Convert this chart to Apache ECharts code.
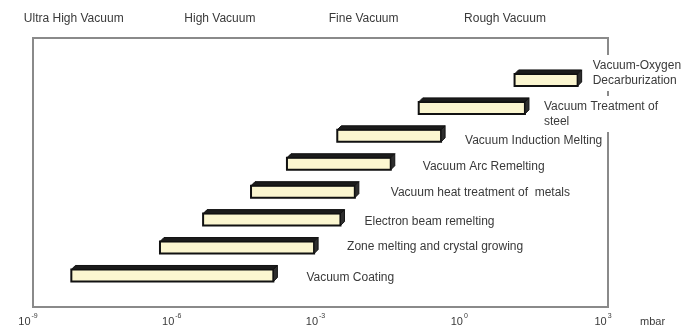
<!DOCTYPE html>
<html><head><meta charset="utf-8">
<script src="https://cdn.jsdelivr.net/npm/echarts@6/dist/echarts.min.js"></script>
<style>html,body{margin:0;padding:0;background:#fff}#chart{width:692px;height:333px}</style>
</head><body><div id="chart"></div>
<script>
// Vacuum processes, listed bottom to top
const processes = [
  'Vacuum Coating',
  'Zone melting and crystal growing',
  'Electron beam remelting',
  'Vacuum heat treatment of  metals',
  'Vacuum Arc Remelting',
  'Vacuum Induction Melting',
  'Vacuum Treatment of\nsteel',
  'Vacuum-Oxygen\nDecarburization'
];
// Working pressure range of each process, as log10(p / mbar)
const lowExp  = [-8.2, -6.35, -5.45, -4.45, -3.7, -2.65, -0.95, 1.05];
const highExp = [-3.9, -3.05, -2.5, -2.2, -1.45, -0.4, 1.35, 2.45];
// Pressure axis ticks (powers of ten)
const tickExps = [-9, -6, -3, 0, 3];
const unitName = 'mbar';
// Vacuum ranges named along the top edge
const rangeNames = ['Ultra High Vacuum', 'High Vacuum', 'Fine Vacuum', 'Rough Vacuum'];
const rangeCenters = [-8.15, -5.1, -2.1, 0.85];

// Label placement next to each bar: horizontal gap and vertical nudge (px)
const labelGap = [29, 29, 20, 32, 28, 20, 15, 11];
const labelDy  = [4, 1, 4, 3, 5, 7, 8, -5];

const barData = processes.map((name, i) => [lowExp[i], highExp[i], i]);

const FONT = '"Liberation Sans", Arial, sans-serif';
const TEXT = '#3a3a3a';

function renderItem(params, api) {
  const i = api.value(2);
  const p0 = api.coord([api.value(0), i]);
  const p1 = api.coord([api.value(1), i]);
  const h = 16, d = 4;
  const x0 = p0[0], x1 = p1[0], yc = p0[1];
  const top = yc - h / 2, bot = yc + h / 2;
  const twoLine = processes[i].indexOf('\n') >= 0;
  return {
    type: 'group',
    children: [
      { // front face
        type: 'rect',
        shape: { x: x0, y: top + d, width: x1 - x0 - d, height: h - d },
        style: { fill: '#fbf6d0', stroke: '#111', lineWidth: 2 }
      },
      { // top face
        type: 'polygon',
        shape: { points: [[x0, top + d], [x0 + d, top], [x1, top], [x1 - d, top + d]] },
        style: { fill: '#1b1b1b', stroke: '#111', lineWidth: 1 }
      },
      { // side face
        type: 'polygon',
        shape: { points: [[x1 - d, top + d], [x1, top], [x1, bot - d], [x1 - d, bot]] },
        style: { fill: '#2e2e2e', stroke: '#111', lineWidth: 1 }
      },
      { // process name
        type: 'text',
        z2: 10 - i,
        style: {
          text: processes[i],
          x: x1 + labelGap[i],
          y: yc + labelDy[i],
          align: 'left',
          verticalAlign: 'middle',
          font: '12px ' + FONT,
          fill: TEXT,
          lineHeight: twoLine ? 15 : 14,
          backgroundColor: '#fff',
          padding: [3, 2, 3, 0]
        }
      }
    ]
  };
}

const chart = echarts.init(document.getElementById('chart'), null, { renderer: 'canvas' });
chart.setOption({
  animation: false,
  backgroundColor: '#fff',
  grid: {
    left: 33, right: 84, top: 38, bottom: 26,
    show: true, borderColor: '#8a8a8a', borderWidth: 2,
    backgroundColor: 'transparent',
    outerBoundsMode: 'none'
  },
  xAxis: [
    {
      type: 'value', min: -9, max: 3, interval: 3,
      axisLine: { show: false }, axisTick: { show: false }, splitLine: { show: false },
      axisLabel: {
        margin: 6, showMinLabel: true, showMaxLabel: true,
        padding: [0, 10, 0, 0],
        formatter: v => tickExps.indexOf(v) >= 0 ? '{b|10}{s|' + v + '}' : '',
        rich: {
          b: { fontFamily: FONT, fontSize: 11, color: TEXT, lineHeight: 14, verticalAlign: 'bottom' },
          s: { fontFamily: FONT, fontSize: 7, color: TEXT, lineHeight: 14, verticalAlign: 'top', padding: [0, 0, 3, 1] }
        }
      }
    },
    {
      type: 'value', position: 'top', min: -9, max: 3,
      axisLine: { show: false }, axisTick: { show: false }, splitLine: { show: false },
      axisLabel: {
        customValues: rangeCenters,
        margin: 13,
        fontFamily: FONT, fontSize: 12, color: TEXT,
        formatter: v => rangeNames[rangeCenters.indexOf(v)] || ''
      }
    }
  ],
  yAxis: {
    type: 'value', min: -1.2, max: 8.43, show: false
  },
  series: [{
    type: 'custom',
    renderItem: renderItem,
    encode: { x: [0, 1], y: 2 },
    data: barData,
    clip: false
  }]
});

// Unit placed after the last pressure tick, on the tick-label row
const axisEnd = chart.convertToPixel({ xAxisIndex: 0 }, tickExps[tickExps.length - 1]);
const axisBase = chart.convertToPixel({ yAxisIndex: 0 }, -1.2);
chart.setOption({
  graphic: [{
    type: 'text',
    x: axisEnd + 32,
    y: axisBase + 15,
    style: { text: unitName, font: '11px ' + FONT, fill: TEXT, align: 'left', verticalAlign: 'middle' }
  }]
});
</script>
</body></html>
